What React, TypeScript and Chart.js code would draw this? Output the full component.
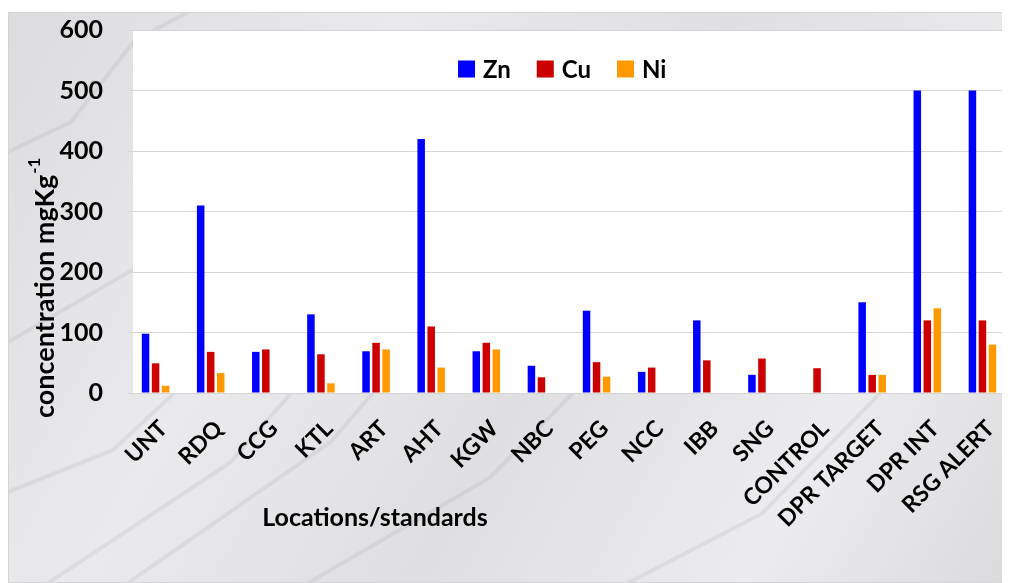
import React, { useEffect, useRef } from "react";
import { Chart, registerables } from "chart.js";

Chart.register(...registerables);

const categories = [
  "UNT", "RDQ", "CCG", "KTL", "ART", "AHT", "KGW", "NBC",
  "PEG", "NCC", "IBB", "SNG", "CONTROL", "DPR TARGET", "DPR INT", "RSG ALERT",
];
const znValues = [98, 310, 68, 130, 69, 420, 69, 45, 136, 35, 120, 30, 0, 150, 500, 500];
const cuValues = [49, 68, 72, 64, 83, 110, 83, 26, 51, 42, 54, 57, 41, 30, 120, 120];
const niValues = [12, 33, 0, 16, 72, 42, 72, 0, 27, 0, 0, 0, 0, 30, 140, 80];
const seriesNames = ["Zn", "Cu", "Ni"];
const seriesColors = ["#0000FF", "#CC0000", "#FF9900"];
const yMin = 0;
const yMax = 600;
const yStep = 100;
const yTitleMain = "concentration mgKg";
const yTitleSup = "-1";
const xTitle = "Locations/standards";

const FONT = "Lato, 'Open Sans', sans-serif";

const decorPlugin = {
  id: "decor",
  beforeDraw(chart: any) {
    const { ctx, width, height, chartArea } = chart;
    ctx.save();
    const g = ctx.createLinearGradient(0, 0, width, height);
    g.addColorStop(0, "#dcdcdf");
    g.addColorStop(0.3, "#eaeaec");
    g.addColorStop(0.55, "#dfdfe2");
    g.addColorStop(0.8, "#ececee");
    g.addColorStop(1, "#dadadd");
    ctx.fillStyle = g;
    ctx.fillRect(0, 0, width, height);
    ctx.strokeStyle = "rgba(140,140,146,0.14)";
    ctx.lineWidth = 4;
    const veins = [
      [0, 140, 180, 0], [0, 330, 400, 20], [40, 571, 560, 130],
      [300, 571, 820, 180], [620, 571, 1002, 300], [0, 480, 300, 300],
      [120, 571, 700, 60],
    ];
    veins.forEach(([x1, y1, x2, y2]) => {
      ctx.beginPath();
      ctx.moveTo(x1, y1);
      ctx.lineTo(x1 + (x2 - x1) * 0.35, y1 + (y2 - y1) * 0.3 + 12);
      ctx.lineTo(x1 + (x2 - x1) * 0.7, y1 + (y2 - y1) * 0.72 - 10);
      ctx.lineTo(x2, y2);
      ctx.stroke();
    });
    ctx.strokeStyle = "#d4d4d4";
    ctx.lineWidth = 1;
    ctx.strokeRect(0.5, 0.5, width - 1, height - 1);
    ctx.fillStyle = "#ffffff";
    ctx.fillRect(chartArea.left + 5, chartArea.top, chartArea.right - chartArea.left - 5, chartArea.bottom - chartArea.top);
    ctx.restore();
  },
  afterDraw(chart: any) {
    const { ctx } = chart;
    ctx.save();
    ctx.font = `bold 24px ${FONT}`;
    ctx.textBaseline = "middle";
    ctx.textAlign = "left";
    let x = 450;
    const yMid = 57;
    chart.data.datasets.forEach((ds: any) => {
      ctx.fillStyle = ds.backgroundColor;
      ctx.fillRect(x, yMid - 8.5, 17, 17);
      x += 25;
      ctx.fillStyle = "#000";
      ctx.fillText(ds.label, x, yMid + 1);
      x += ctx.measureText(ds.label).width + 26;
    });
    ctx.textAlign = "center";
    ctx.font = `bold 25px ${FONT}`;
    ctx.fillText(xTitle, 367, 506);
    ctx.translate(33, 406);
    ctx.rotate(-Math.PI / 2);
    ctx.textAlign = "left";
    ctx.textBaseline = "middle";
    ctx.font = `bold 27px ${FONT}`;
    ctx.fillText(yTitleMain, 0, 4);
    const w = ctx.measureText(yTitleMain).width;
    ctx.font = `bold 17px ${FONT}`;
    ctx.fillText(yTitleSup, w + 1, -6);
    ctx.restore();
  },
};

export default function App() {
  const ref = useRef<HTMLCanvasElement | null>(null);
  useEffect(() => {
    if (!ref.current) return;
    const values = [znValues, cuValues, niValues];
    const chart = new Chart(ref.current, {
      type: "bar",
      data: {
        labels: categories,
        datasets: values.map((v, i) => ({
          label: seriesNames[i],
          data: v,
          backgroundColor: seriesColors[i],
          borderWidth: 0,
          barPercentage: 0.75,
          categoryPercentage: 0.545,
        })),
      },
      options: {
        animation: false,
        responsive: false,
        layout: { padding: { top: 18, right: 0, left: 0, bottom: 0 } },
        plugins: {
          legend: { display: false },
          tooltip: { enabled: false },
        },
        scales: {
          x: {
            grid: { display: false, drawTicks: false },
            border: { display: false },
            ticks: {
              autoSkip: false,
              maxRotation: 45,
              minRotation: 45,
              padding: 22,
              labelOffset: 8,
              color: "#000",
              font: { family: FONT, size: 23, weight: "bold" },
            },
            afterFit: (scale: any) => {
              scale.height = 190;
              scale.paddingLeft = 0;
              scale.paddingRight = 0;
            },
          },
          y: {
            min: yMin,
            max: yMax,
            grid: { color: "#d6d6d6", lineWidth: 1, drawTicks: false },
            border: { display: false },
            ticks: {
              stepSize: yStep,
              padding: 25,
              color: "#000",
              font: { family: FONT, size: 25, weight: "bold" },
            },
            afterFit: (scale: any) => {
              scale.width = 120;
              scale.paddingTop = 0;
              scale.paddingBottom = 0;
            },
          },
        },
      },
      plugins: [decorPlugin],
    });
    return () => chart.destroy();
  }, []);
  return (
    <div style={{ marginTop: 4, width: 1002, height: 571 }}>
      <canvas ref={ref} width={1002} height={571} style={{ display: "block" }} />
    </div>
  );
}
